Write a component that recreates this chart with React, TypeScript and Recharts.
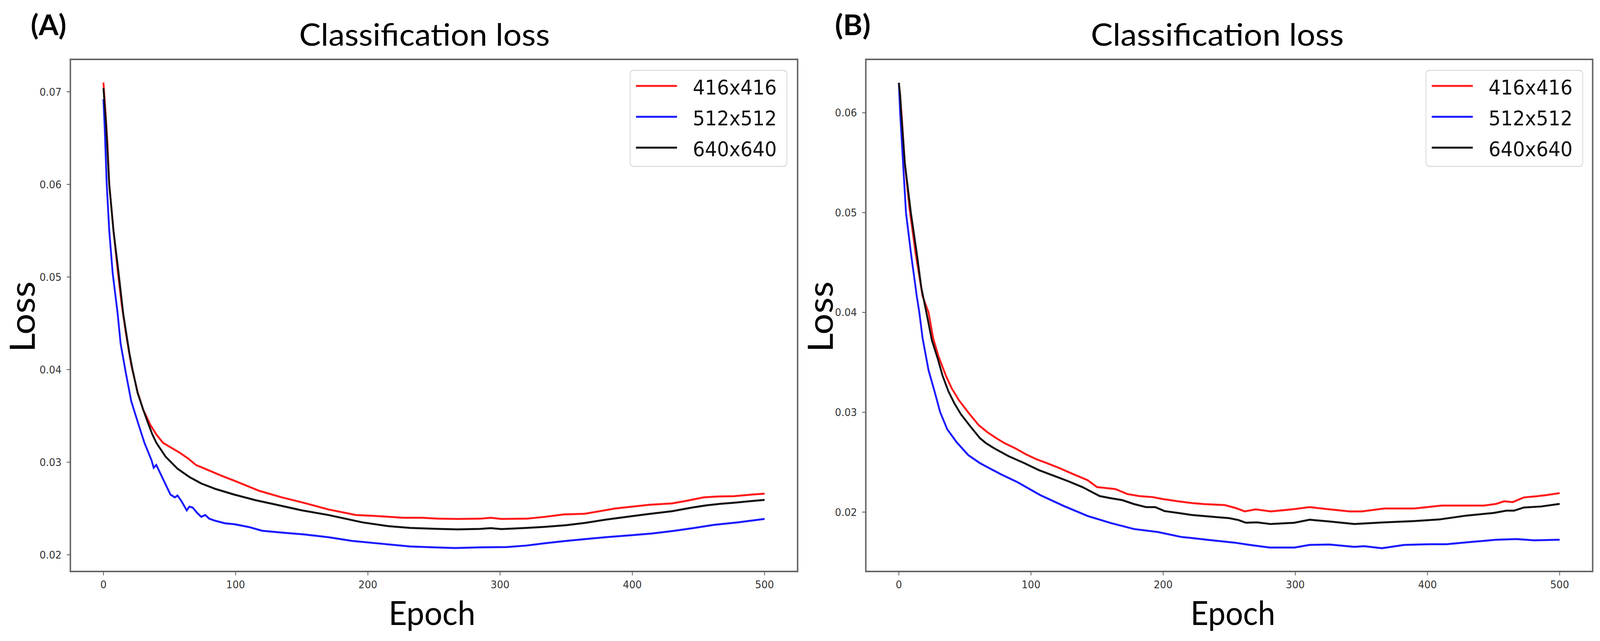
import React from 'react';
import { LineChart, Line, XAxis, YAxis, ReferenceArea, Legend } from 'recharts';

// (epoch, loss) pairs
const A_416: [number, number][] = [
  [0, 0.071], [1, 0.069], [2, 0.0668], [3, 0.0645], [4.4, 0.06], [7.6, 0.055], [11, 0.0504], [14, 0.0468],
  [17, 0.0439], [21, 0.0405], [26, 0.0375], [30, 0.0357], [35.6, 0.034], [40, 0.033], [45, 0.0321],
  [52, 0.0315], [58, 0.031], [64, 0.0304], [70, 0.0297], [80, 0.0291], [90, 0.0285], [99, 0.028],
  [118, 0.0269], [135, 0.0262], [152, 0.0256], [170, 0.0249], [191, 0.0243], [205, 0.0242], [227, 0.024],
  [241, 0.024], [253, 0.0239], [268, 0.02387], [285, 0.0239], [293, 0.024], [301, 0.02387], [320, 0.0239],
  [334, 0.0241], [348, 0.02436], [364, 0.02443], [375, 0.0247], [387, 0.025], [400, 0.0252], [413, 0.0254],
  [430, 0.02555], [440, 0.0258], [454, 0.0262], [465, 0.0263], [477, 0.02633], [490, 0.0265], [500, 0.0266],
];
const A_512: [number, number][] = [
  [0, 0.0692], [1, 0.066], [2.5, 0.06], [4.4, 0.055], [7, 0.0504], [10.7, 0.0461], [13, 0.0428], [17, 0.0396],
  [21, 0.0366], [26.7, 0.034], [31, 0.0321], [36.4, 0.0302], [38, 0.0294], [40, 0.0297], [43, 0.0288],
  [47, 0.0276], [50.7, 0.0265], [54, 0.0262], [56, 0.0264], [59, 0.0258], [63, 0.0248], [65, 0.0252],
  [67.5, 0.0251], [71, 0.0245], [74, 0.0241], [77, 0.0243], [80, 0.0239], [84, 0.0237], [92, 0.0234],
  [99, 0.0233], [110, 0.023], [120, 0.0226], [135, 0.0224], [152, 0.0222], [170, 0.0219], [188, 0.0215],
  [210, 0.0212], [232, 0.0209], [250, 0.0208], [266, 0.02073], [285, 0.0208], [305, 0.02084], [320, 0.021],
  [334.5, 0.02126], [350, 0.0215], [364, 0.02169], [380, 0.0219], [399, 0.02211], [415, 0.0223], [432, 0.0226],
  [447, 0.0229], [461.5, 0.02323], [480, 0.0235], [500, 0.02387],
];
const A_640: [number, number][] = [
  [0, 0.0704], [2, 0.0665], [4.4, 0.06], [7.6, 0.055], [11.5, 0.0504], [15, 0.046], [19.6, 0.0418], [22, 0.04],
  [25.8, 0.0375], [30, 0.0357], [33.8, 0.0342], [37, 0.033], [40, 0.0321], [47, 0.0306], [56, 0.0293],
  [65, 0.0284], [74, 0.0277], [85, 0.0271], [99, 0.0265], [115, 0.0259], [131, 0.0254], [150, 0.0248],
  [170, 0.0243], [196, 0.0235], [215, 0.0231], [232, 0.0229], [253, 0.0228], [268, 0.02274], [285, 0.0228],
  [293, 0.02288], [301, 0.02278], [320, 0.0229], [334, 0.02302], [350, 0.0232], [364, 0.02344], [380, 0.0238],
  [395, 0.02408], [412, 0.0244], [430, 0.02471], [445, 0.0251], [456, 0.02534], [466, 0.0255], [477, 0.02562],
  [490, 0.0258], [500, 0.02593],
];

const B_416: [number, number][] = [
  [0, 0.063], [1, 0.0615], [2, 0.06], [4.5, 0.055], [8, 0.0505], [12.7, 0.0459], [18, 0.0416], [22.5, 0.04],
  [26, 0.0374], [30, 0.0356], [35.8, 0.0336], [40, 0.0324], [45.5, 0.0312], [53, 0.0299], [60.5, 0.0287],
  [67, 0.028], [73.8, 0.0274], [80, 0.0269], [88, 0.0264], [96, 0.0258], [104, 0.0253], [112, 0.0249],
  [121.6, 0.0244], [132, 0.0238], [142.8, 0.0232], [150, 0.0225], [157, 0.0224], [164, 0.0223], [173, 0.0218],
  [182, 0.0216], [192, 0.0215], [200, 0.0213], [210, 0.0211], [222, 0.0209], [231, 0.0208], [246.6, 0.0207],
  [255, 0.0204], [261.7, 0.02007], [270, 0.02027], [281.5, 0.02007], [297.5, 0.02027], [310.8, 0.0205],
  [324, 0.0203], [341, 0.02007], [350.4, 0.02007], [367.4, 0.02036], [390, 0.02036], [410.8, 0.02065],
  [442.8, 0.02065], [452, 0.02082], [458, 0.02108], [464.5, 0.021], [473, 0.02147], [482.5, 0.02158],
  [490, 0.0217], [500, 0.0219],
];
const B_512: [number, number][] = [
  [0, 0.063], [1, 0.06], [3.2, 0.055], [5.4, 0.05], [9.2, 0.0459], [13.6, 0.0416], [15.5, 0.04], [18, 0.0374],
  [22.5, 0.0342], [27, 0.0321], [31.3, 0.03], [36.6, 0.0283], [43.7, 0.027], [52.6, 0.0257], [61.4, 0.0249],
  [77, 0.0238], [89.7, 0.023], [107, 0.0217], [125, 0.0206], [143, 0.0196], [160.5, 0.0189], [178, 0.0183],
  [196, 0.018], [214, 0.0175], [222, 0.0174], [235, 0.0172], [254, 0.01694], [265.5, 0.01671], [280.6, 0.01645],
  [299.4, 0.01645], [310.8, 0.01671], [325.8, 0.01675], [344.7, 0.01652], [352, 0.01658], [365.5, 0.01638],
  [382.5, 0.01671], [401.3, 0.01678], [414.5, 0.01678], [433.4, 0.01701], [452.3, 0.01723], [467.4, 0.0173],
  [480.6, 0.01717], [500, 0.01723],
];
const B_640: [number, number][] = [
  [0, 0.063], [1, 0.0618], [1.8, 0.06], [4.5, 0.055], [9.1, 0.05], [13.6, 0.0459], [17, 0.0425], [21.6, 0.0395],
  [25, 0.0372], [29.6, 0.0353], [33, 0.0337], [37.5, 0.0321], [42, 0.0309], [47, 0.0298], [54, 0.0286],
  [61.4, 0.0274], [66, 0.0269], [72, 0.0264], [83, 0.0256], [95, 0.0249], [106, 0.0242], [118, 0.0236],
  [128, 0.0231], [139, 0.0225], [152, 0.0216], [160, 0.0214], [169, 0.0212], [178, 0.0208], [187, 0.0205],
  [194, 0.0205], [201, 0.0201], [212, 0.0199], [222, 0.0197], [240, 0.0195], [250, 0.01939], [257, 0.0192],
  [262.6, 0.01893], [271, 0.01897], [281.5, 0.0188], [299.4, 0.01893], [310.8, 0.01923], [325.8, 0.01906],
  [344.7, 0.0188], [367.4, 0.01897], [390, 0.0191], [408.9, 0.01926], [429.6, 0.01965], [450, 0.01991],
  [459.8, 0.02014], [465.5, 0.02014], [473, 0.02046], [486, 0.02056], [500, 0.02082],
];

const SERIES_NAMES = ['416x416', '512x512', '640x640'];
const SERIES_COLORS = ['#ff1a1a', '#1a1aff', '#111111'];
const EPOCH_TICKS = [0, 100, 200, 300, 400, 500];
const LOSS_TICKS_A = [0.02, 0.03, 0.04, 0.05, 0.06, 0.07];
const LOSS_TICKS_B = [0.02, 0.03, 0.04, 0.05, 0.06];

// the figure is laid out at 4365x1641 and squeezed into whatever the window gives
const FIG_W = 4365;
const FIG_H = 1641;

const toPoints = (pairs: [number, number][]) => pairs.map(([x, y]) => ({ x, y }));

const tickStyle = { fill: '#333', fontSize: 27, fontFamily: 'DejaVu Sans' };

// legend box drawn like matplotlib's framed legend
const LegendBox = ({ payload }: any) => {
  const items = SERIES_NAMES.map((name) => payload?.find((p: any) => p.value === name)).filter(Boolean);
  return (
    <svg width={430} height={250}>
      <rect x={1} y={1} width={428} height={246} rx={10} fill="#fff" fillOpacity={0.8} stroke="#d0d0d0" strokeWidth={2} />
      {items.map((p: any, i: number) => (
        <g key={p.value}>
          <line x1={17} x2={129} y1={41 + i * 79} y2={41 + i * 79} stroke={p.color} strokeWidth={5} />
          <text x={172} y={63 + i * 79} fontFamily="DejaVu Sans" fontSize={52} fill="#111">{p.value}</text>
        </g>
      ))}
    </svg>
  );
};

interface PanelProps {
  width: number;
  yAxisWidth: number;
  rightPad: number;
  yDomain: [number, number];
  yTicks: number[];
  data: [number, number][][];
  legendLeft: number;
}

const Panel: React.FC<PanelProps> = ({ width, yAxisWidth, rightPad, yDomain, yTicks, data, legendLeft }) => (
  <LineChart width={width} height={FIG_H} margin={{ top: 152, right: rightPad, bottom: 0, left: 0 }}>
    <XAxis
      dataKey="x"
      type="number"
      domain={[-25, 525]}
      ticks={EPOCH_TICKS}
      allowDataOverflow
      height={178}
      axisLine={false}
      tickSize={10}
      tickMargin={14}
      tickLine={{ stroke: '#555', strokeWidth: 2 }}
      tick={tickStyle}
    />
    <YAxis
      type="number"
      domain={yDomain}
      ticks={yTicks}
      allowDataOverflow
      width={yAxisWidth}
      axisLine={false}
      tickSize={10}
      tickMargin={14}
      tickLine={{ stroke: '#555', strokeWidth: 2 }}
      tick={tickStyle}
      tickFormatter={(v: number) => v.toFixed(2)}
    />
    {data.map((pairs, i) => (
      <Line
        key={SERIES_NAMES[i]}
        name={SERIES_NAMES[i]}
        data={toPoints(pairs)}
        dataKey="y"
        type="linear"
        stroke={SERIES_COLORS[i]}
        strokeWidth={5}
        dot={false}
        isAnimationActive={false}
      />
    ))}
    <ReferenceArea x1={-25} x2={525} y1={yDomain[0]} y2={yDomain[1]} fill="none" stroke="#666" strokeWidth={4} ifOverflow="visible" />
    <Legend
      layout="vertical"
      align="center"
      verticalAlign="middle"
      width={430}
      height={250}
      wrapperStyle={{ left: legendLeft, top: 179, width: 430, height: 250 }}
      content={<LegendBox />}
    />
  </LineChart>
);

const titleFont = 'Lato, "Open Sans", sans-serif';

export default function App() {
  const sx = (typeof window !== 'undefined' ? window.innerWidth : FIG_W) / FIG_W;
  const sy = (typeof window !== 'undefined' ? window.innerHeight : FIG_H) / FIG_H;
  return (
    <div style={{ position: 'fixed', left: 0, top: 0, width: '100vw', height: '100vh', overflow: 'hidden', background: '#fff' }}>
      <div
        style={{
          position: 'absolute', left: 0, top: 0, width: FIG_W, height: FIG_H, background: '#fff',
          transform: `scale(${sx}, ${sy})`, transformOrigin: '0 0',
        }}
      >
        <div style={{ position: 'absolute', left: 0, top: 0 }}>
          <Panel
            width={2180}
            yAxisWidth={192}
            rightPad={4}
            yDomain={[0.0182, 0.0735]}
            yTicks={LOSS_TICKS_A}
            data={[A_416, A_512, A_640]}
            legendLeft={1718}
          />
        </div>
        <div style={{ position: 'absolute', left: 2180, top: 0 }}>
          <Panel
            width={2185}
            yAxisWidth={182}
            rightPad={20}
            yDomain={[0.01405, 0.06535]}
            yTicks={LOSS_TICKS_B}
            data={[B_416, B_512, B_640]}
            legendLeft={1709}
          />
        </div>
        <svg width={FIG_W} height={FIG_H} style={{ position: 'absolute', left: 0, top: 0, pointerEvents: 'none' }}>
          <text x={84} y={90} fontFamily={titleFont} fontWeight={700} fontSize={72} textLength={97} lengthAdjust="spacingAndGlyphs">(A)</text>
          <text x={2278} y={90} fontFamily={titleFont} fontWeight={700} fontSize={72} textLength={97} lengthAdjust="spacingAndGlyphs">(B)</text>
          <text x={816} y={117} fontFamily={titleFont} fontSize={80} textLength={684} lengthAdjust="spacingAndGlyphs">Classification loss</text>
          <text x={2976} y={117} fontFamily={titleFont} fontSize={80} textLength={690} lengthAdjust="spacingAndGlyphs">Classification loss</text>
          <text x={1060} y={1600} fontFamily={titleFont} fontSize={86} textLength={237} lengthAdjust="spacingAndGlyphs">Epoch</text>
          <text x={3248} y={1600} fontFamily={titleFont} fontSize={86} textLength={231} lengthAdjust="spacingAndGlyphs">Epoch</text>
          <text x={95} y={811} transform="rotate(-90 95 811)" textAnchor="middle" fontFamily={titleFont} fontSize={95}>Loss</text>
          <text x={2272} y={811} transform="rotate(-90 2272 811)" textAnchor="middle" fontFamily={titleFont} fontSize={95}>Loss</text>
        </svg>
      </div>
    </div>
  );
}
